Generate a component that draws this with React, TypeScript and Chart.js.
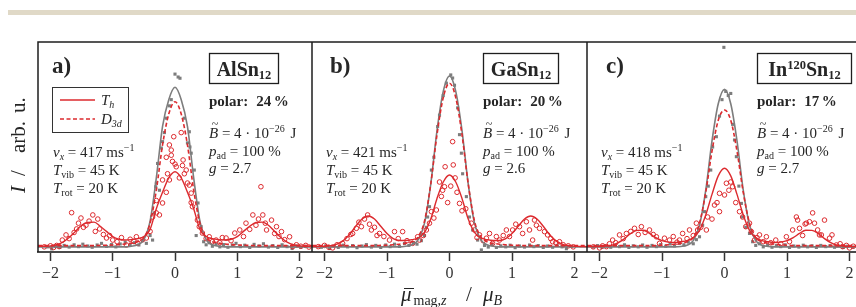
import React, { useEffect, useRef } from 'react';
import { Chart, registerables } from 'chart.js';
Chart.register(...registerables);

const FONT = '"Liberation Serif", "DejaVu Serif", serif';
const RED = '#dc2a2e';
const GREY = '#7d7d7d';
const INK = '#262626';

// x positions of the fitted curves
const CURVE_X = [
  -2.2, -2.1, -2.0, -1.9, -1.8, -1.7, -1.6, -1.5, -1.4, -1.3, -1.2, -1.1, -1.0, -0.9, -0.8,
  -0.7, -0.6, -0.5, -0.4, -0.3, -0.2, -0.1, 0, 0.1, 0.2, 0.3, 0.4, 0.5, 0.6, 0.7,
  0.8, 0.9, 1.0, 1.1, 1.2, 1.3, 1.4, 1.5, 1.6, 1.7, 1.8, 1.9, 2.0, 2.1, 2.2,
];

// ---------- panel a) AlSn12 ----------
const GRAY_FIT_A = [
  0.5, 0.5, 0.5, 0.5, 0.5, 0.5, 0.5, 0.5, 0.5, 0.5, 0.5, 0.5, 0.5, 0.5, 0.5,
  0.8, 1.5, 4, 13, 34, 59, 72, 78, 72, 59, 34, 13, 4, 1.5, 0.8,
  0.5, 0.5, 0.5, 0.5, 0.5, 0.5, 0.5, 0.5, 0.5, 0.5, 0.5, 0.5, 0.5, 0.5, 0.5,
];
const D3D_FIT_A = [
  1.1, 1.1, 1.1, 1.1, 1.1, 1.1, 1.1, 1.1, 1.1, 1.1, 1.2, 1.3, 1.4, 1.6, 1.9,
  2.3, 3, 5, 12, 28, 50, 65, 71, 65, 50, 28, 12, 5, 3, 2.3,
  1.9, 1.6, 1.4, 1.3, 1.2, 1.1, 1.1, 1.1, 1.1, 1.1, 1.1, 1.1, 1.1, 1.1, 1.1,
];
const TH_FIT_A = [
  0.7, 0.8, 1, 1.5, 2.8, 5, 8, 11, 12.3, 12.5, 10.5, 8, 5.5, 4.2, 3.8,
  4, 4.5, 5.5, 9, 19, 27, 34, 37, 34, 27, 19, 9, 5.5, 4.5, 4,
  3.8, 4.2, 5.5, 8, 10.5, 12.3, 12.5, 11, 8, 5, 2.8, 1.5, 1, 0.8, 0.7,
];
const GRAY_PTS_A = [
  [-2.05, 0.5], [-1.98, -0.5], [-1.92, 0.8], [-1.85, 0.2], [-1.78, 1.2], [-1.7, 0.4], [-1.62, 1.5],
  [-1.55, 0.6], [-1.48, 1.8], [-1.4, 0.9], [-1.33, 0.3], [-1.25, 1.4], [-1.18, 2.2], [-1.1, 0.7],
  [-1.02, 1.6], [-0.95, 0.5], [-0.88, 1.9], [-0.8, 2.8], [-0.72, 1.2], [-0.65, 2.5], [-0.58, 1.4],
  [-0.52, 3.5], [-0.46, 2.2], [-0.4, 6], [-0.36, 3.8], [-0.33, 17], [-0.31, 29.7], [-0.3, 31.5],
  [-0.28, 41], [-0.25, 28], [-0.22, 48.5], [-0.2, 51.6], [-0.17, 56], [-0.14, 63], [-0.09, 69],
  [-0.06, 72], [0, 84.4], [0.05, 83], [0.08, 82.4], [0.15, 63], [0.2, 51], [0.23, 56.4], [0.24, 49],
  [0.26, 46], [0.31, 37.8], [0.34, 6], [0.37, 21.8], [0.42, 10.3], [0.46, 3], [0.5, 1.5], [0.55, 2.5],
  [0.6, 0.8], [0.66, 1.8], [0.72, 0.5], [0.78, 1.6], [0.85, 0.3], [0.92, 1.4], [0.98, 2.2], [1.05, 0.6],
  [1.12, 1.3], [1.2, 0.2], [1.27, 1.7], [1.35, 0.9], [1.42, 2.0], [1.5, 0.4], [1.57, 1.1], [1.65, 0.2],
  [1.72, 1.5], [1.8, 0.6], [1.88, -0.3], [1.95, 0.9], [2.02, 0.3], [2.1, 0.7],
];
const RED_PTS_A = [
  [-2.1, 0.5], [-2.0, 1.0], [-1.95, 0.2], [-1.9, 1.2], [-1.86, 0.6], [-1.81, 3.8], [-1.75, 6.3],
  [-1.7, 4.5], [-1.66, 17.1], [-1.62, 7.5], [-1.58, 9.2], [-1.55, 12], [-1.51, 14.5], [-1.47, 10],
  [-1.43, 11], [-1.38, 13], [-1.32, 16], [-1.28, 8], [-1.24, 14], [-1.21, 9.2], [-1.15, 6.5],
  [-1.1, 4.8], [-1.05, 6], [-1.0, 3.8], [-0.93, 3], [-0.86, 5], [-0.78, 1.4], [-0.72, 4.2],
  [-0.66, 3.2], [-0.62, 5.4], [-0.6, 2.4], [-0.52, 4], [-0.46, 4.8], [-0.4, 8], [-0.36, 15],
  [-0.3, 17], [-0.3, 23], [-0.25, 16], [-0.2, 21.8], [-0.2, 33], [-0.14, 27], [-0.14, 44],
  [-0.12, 36], [-0.09, 33], [-0.09, 50], [-0.06, 45], [-0.06, 47.5], [-0.04, 42], [-0.02, 54],
  [0, 40.7], [0.02, 39.4], [0.07, 34], [0.1, 56], [0.12, 40], [0.13, 42.7], [0.15, 36], [0.18, 37.8],
  [0.2, 31.5], [0.23, 30.5], [0.26, 22], [0.26, 26.6], [0.28, 20], [0.36, 13.5], [0.39, 10.3],
  [0.44, 7.2], [0.5, 4.5], [0.55, 5.4], [0.6, 3], [0.66, 3.8], [0.72, 2.5], [0.76, 5], [0.82, 4.8],
  [0.9, 3.5], [0.96, 7.2], [1.04, 8.7], [1.1, 5.5], [1.14, 12], [1.2, 9], [1.25, 16], [1.3, 11],
  [1.34, 14], [1.38, 29.7], [1.41, 16], [1.45, 12], [1.47, 8.7], [1.55, 13.5], [1.6, 7], [1.63, 10.3],
  [1.67, 5.5], [1.71, 7.9], [1.76, 4], [1.84, 5.4], [1.89, 0.6], [1.95, 1.5], [2.02, 0.8], [2.1, 1.2],
  [2.15, 0.4],
];

// ---------- panel b) GaSn12 ----------
const GRAY_FIT_B = [
  0.5, 0.5, 0.5, 0.5, 0.5, 0.5, 0.5, 0.5, 0.5, 0.5, 0.5, 0.5, 0.5, 0.5, 0.5,
  0.8, 1.5, 4, 12, 31, 57, 76, 83.5, 76, 57, 31, 12, 4, 1.5, 0.8,
  0.5, 0.5, 0.5, 0.5, 0.5, 0.5, 0.5, 0.5, 0.5, 0.5, 0.5, 0.5, 0.5, 0.5, 0.5,
];
const D3D_FIT_B = [
  1.1, 1.1, 1.1, 1.1, 1.1, 1.1, 1.1, 1.1, 1.1, 1.1, 1.1, 1.2, 1.3, 1.5, 1.8,
  2.2, 3, 5.5, 13, 31, 55, 73, 80, 73, 55, 31, 13, 5.5, 3, 2.2,
  1.8, 1.5, 1.3, 1.2, 1.1, 1.1, 1.1, 1.1, 1.1, 1.1, 1.1, 1.1, 1.1, 1.1, 1.1,
];
const TH_FIT_B = [
  0.6, 0.7, 0.8, 1.1, 1.8, 3.5, 6.5, 10.5, 14, 15.5, 14, 10.5, 7, 4.5, 3.6,
  3.6, 4, 4.8, 7.5, 14, 24, 32, 35.4, 32, 24, 14, 7.5, 4.8, 4, 3.6,
  3.6, 4.5, 7, 10.5, 14, 15.5, 14, 10.5, 6.5, 3.5, 1.8, 1.1, 0.8, 0.7, 0.6,
];
const GRAY_PTS_B = [
  [-2.05, 0.3], [-1.98, 1.0], [-1.92, -0.3], [-1.85, 0.8], [-1.78, 0.2], [-1.7, 1.3], [-1.63, 0.5],
  [-1.55, 1.1], [-1.48, 0.1], [-1.4, 0.9], [-1.33, 1.6], [-1.25, 0.4], [-1.18, 1.2], [-1.1, 0.2],
  [-1.02, 1.4], [-0.95, 0.6], [-0.88, 1.8], [-0.8, 0.7], [-0.72, 2.1], [-0.65, 1.2], [-0.58, 2.6],
  [-0.52, 1.8], [-0.45, 3.5], [-0.4, 6], [-0.37, 10], [-0.35, 15], [-0.32, 20], [-0.29, 37.8],
  [-0.25, 44], [-0.19, 58.9], [-0.16, 64.5], [-0.1, 74], [-0.05, 80], [0.02, 84], [0.05, 82.5],
  [0.08, 79], [0.13, 68], [0.16, 55], [0.19, 46], [0.21, 36], [0.27, 24.9], [0.32, 15], [0.37, 8.7],
  [0.45, 3.8], [0.51, -1], [0.56, 1.2], [0.62, 0.4], [0.68, 1.5], [0.75, 0.2], [0.82, 1.0], [0.9, 0.5],
  [0.97, 1.3], [1.05, 0.1], [1.12, 0.9], [1.2, 0.4], [1.28, 1.4], [1.35, 0.6], [1.42, 1.1], [1.5, 0.2],
  [1.57, 0.9], [1.65, 0.3], [1.72, 1.2], [1.8, 0.5], [1.87, -0.4], [1.95, 0.7],
];
const RED_PTS_B = [
  [-2.1, 0.6], [-2.0, 1.2], [-1.93, 0.3], [-1.87, 0], [-1.8, 1.5], [-1.71, 2.2], [-1.64, 4.5],
  [-1.58, 6.5], [-1.55, 7], [-1.49, 9.5], [-1.45, 12.5], [-1.41, 10.3], [-1.36, 14], [-1.31, 16],
  [-1.28, 11.5], [-1.25, 8.7], [-1.2, 10], [-1.16, 6], [-1.12, 7], [-1.05, 5.5], [-0.96, 3.8],
  [-0.88, 7.9], [-0.82, 4.5], [-0.75, 7.9], [-0.68, 3.5], [-0.59, 2.2], [-0.51, 5.4], [-0.48, 3.8],
  [-0.42, 6], [-0.37, 8.7], [-0.32, 12], [-0.29, 17.6], [-0.25, 14.5], [-0.21, 18.4], [-0.16, 32],
  [-0.13, 25], [-0.11, 28], [-0.08, 29.7], [-0.07, 39.4], [-0.03, 22], [0.02, 30], [0.05, 51.6],
  [0.06, 40.3], [0.09, 34], [0.12, 27], [0.16, 21.6], [0.2, 18], [0.26, 19], [0.35, 12], [0.4, 8.7],
  [0.44, 5], [0.48, 6.3], [0.54, 3.5], [0.59, 4.7], [0.64, 7], [0.69, 2.2], [0.75, 5.5], [0.8, 3.8],
  [0.86, 6], [0.91, 8.7], [0.96, 5.5], [1.01, 8.7], [1.06, 11.5], [1.12, 10.3], [1.17, 7], [1.23, 12.7],
  [1.28, 8.7], [1.33, 3.8], [1.36, 13.5], [1.39, 11], [1.44, 9.5], [1.52, 7.9], [1.57, 6.3], [1.62, 4.5],
  [1.65, 3], [1.7, 2.5], [1.76, 3], [1.82, 1.5], [1.9, 1.0], [1.98, 0.5],
];

// ---------- panel c) In120Sn12 ----------
const GRAY_FIT_C = [
  0.5, 0.5, 0.5, 0.5, 0.5, 0.5, 0.5, 0.5, 0.5, 0.5, 0.5, 0.5, 0.5, 0.5, 0.5,
  0.7, 1.3, 3.5, 11, 28, 52, 70, 77, 70, 52, 28, 11, 3.5, 1.3, 0.7,
  0.5, 0.5, 0.5, 0.5, 0.5, 0.5, 0.5, 0.5, 0.5, 0.5, 0.5, 0.5, 0.5, 0.5, 0.5,
];
const D3D_FIT_C = [
  1.1, 1.1, 1.1, 1.1, 1.1, 1.1, 1.1, 1.1, 1.1, 1.1, 1.1, 1.1, 1.3, 1.5, 1.8,
  2.2, 3, 5, 12, 27, 47, 62, 67, 62, 47, 27, 12, 5, 3, 2.2,
  1.8, 1.5, 1.3, 1.1, 1.1, 1.1, 1.1, 1.1, 1.1, 1.1, 1.1, 1.1, 1.1, 1.1, 1.1,
];
const TH_FIT_C = [
  0.6, 0.6, 0.7, 0.9, 1.3, 2.5, 4.5, 7, 8.5, 8.6, 7, 5, 3.5, 2.8, 2.6,
  3, 3.5, 5, 8.5, 16, 26, 35, 38.7, 35, 26, 16, 8.5, 5, 3.5, 3,
  2.6, 2.8, 3.5, 5, 7, 8.6, 8.5, 7, 4.5, 2.5, 1.3, 0.9, 0.7, 0.6, 0.6,
];
const GRAY_PTS_C = [
  [-2.1, 0.4], [-2.03, 1.1], [-1.96, 0.2], [-1.89, 0.9], [-1.82, 0.3], [-1.75, 1.3], [-1.68, 0.6],
  [-1.6, 1.5], [-1.53, 0.2], [-1.46, 1.0], [-1.38, 0.5], [-1.31, 1.4], [-1.24, 0.3], [-1.16, 1.2],
  [-1.09, 0.6], [-1.02, 1.6], [-0.94, 0.8], [-0.87, 1.9], [-0.8, 1.0], [-0.72, 2.2], [-0.65, 1.5],
  [-0.58, 2.8], [-0.5, 2.0], [-0.45, 4], [-0.4, 5.4], [-0.35, 11], [-0.32, 17.6], [-0.3, 24.9],
  [-0.26, 30], [-0.22, 37.8], [-0.19, 49], [-0.13, 54], [-0.08, 64], [-0.04, 72], [-0.01, 97.4],
  [0.02, 76], [0.06, 74], [0.1, 75], [0.13, 60], [0.16, 52.4], [0.19, 44.3], [0.23, 30], [0.27, 21.6],
  [0.29, 15], [0.34, 10], [0.4, 7], [0.45, 3], [0.5, 1.2], [0.56, 2.0], [0.62, 0.5], [0.69, 1.4],
  [0.76, 0.3], [0.83, 1.1], [0.9, 0.6], [0.97, 1.5], [1.04, 0.2], [1.11, 0.9], [1.19, 0.4], [1.26, 1.3],
  [1.33, 0.5], [1.4, 1.0], [1.47, 0.2], [1.54, 1.2], [1.62, 0.6], [1.69, 1.1], [1.76, 0.3], [1.83, 0.9],
  [1.9, 0.2], [1.97, 0.8], [2.05, 0.4],
];
const RED_PTS_C = [
  [-2.1, 0.5], [-2.0, 0], [-1.95, 1.0], [-1.89, 0.6], [-1.84, 2.0], [-1.79, 3.8], [-1.74, 2.5],
  [-1.68, 6.3], [-1.62, 4.5], [-1.57, 7], [-1.5, 8], [-1.44, 9.5], [-1.38, 6.5], [-1.33, 10.3],
  [-1.27, 7.5], [-1.2, 8.7], [-1.14, 6.5], [-1.09, 5.4], [-1.04, 2.2], [-0.96, 4.7], [-0.88, 3.8],
  [-0.82, 5.5], [-0.76, 2.8], [-0.72, 3.8], [-0.67, 7], [-0.6, 4.5], [-0.56, 8.7], [-0.5, 6],
  [-0.45, 12], [-0.43, 8.7], [-0.38, 10], [-0.29, 8.7], [-0.27, 15], [-0.2, 14], [-0.16, 20.8],
  [-0.12, 22], [-0.08, 26.5], [-0.08, 17.6], [0, 25.7], [0.03, 31.4], [0.07, 28], [0.1, 32],
  [0.13, 29.7], [0.18, 22], [0.24, 17.6], [0.29, 15], [0.34, 10.3], [0.4, 12], [0.43, 7.9], [0.48, 3.8],
  [0.52, 5], [0.56, 6.3], [0.62, 3], [0.67, 5.4], [0.74, 2.5], [0.82, 3.8], [0.9, 2.0], [0.99, 5.4],
  [1.04, 3], [1.09, 8.7], [1.15, 15], [1.17, 13.5], [1.2, 9.5], [1.25, 6], [1.29, 11.6], [1.31, 12],
  [1.36, 12.7], [1.41, 17], [1.44, 12], [1.49, 8.7], [1.52, 6.3], [1.55, 6.3], [1.6, 13.5], [1.68, 4.7],
  [1.72, 6.3], [1.79, 1.4], [1.85, 2], [1.89, 0.6], [1.95, 1.2], [2.0, 0], [2.06, 0.8],
];

const X_TICKS = [-2, -1, 0, 1, 2];
const CLUSTERS = ['Al', 'Ga', 'In'];
const POLAR = ['24', '20', '17'];
const VX = ['417', '421', '418'];
const G_FACTOR = ['2.7', '2.6', '2.7'];
const T_VIB = '45';
const T_ROT = '20';
const P_AD = '100';
const B_EXP = '−26';

type Seg = { t: string; f: string; dy?: number; dx?: number; adv?: boolean };

const r = (s: number) => `${s}px ${FONT}`;
const it = (s: number) => `italic ${s}px ${FONT}`;
const b = (s: number) => `bold ${s}px ${FONT}`;

function rich(ctx: CanvasRenderingContext2D, x: number, y: number, segs: Seg[]) {
  let cx = x;
  for (const s of segs) {
    ctx.font = s.f;
    if (s.adv === false) {
      ctx.fillText(s.t, cx + (s.dx || 0), y + (s.dy || 0));
      continue;
    }
    cx += s.dx || 0;
    ctx.fillText(s.t, cx, y + (s.dy || 0));
    cx += ctx.measureText(s.t).width;
  }
  return cx;
}
function richWidth(ctx: CanvasRenderingContext2D, segs: Seg[]) {
  let w = 0;
  for (const s of segs) {
    ctx.font = s.f;
    if (s.adv === false) continue;
    w += (s.dx || 0) + ctx.measureText(s.t).width;
  }
  return w;
}

interface Spec {
  id: number;
  left: number;
  width: number;
  padLeft: number;
  letter: string;
  letterX: number;
  box: { x: number; w: number };
  rx: number;
  lx: number;
  gray: number[];
  d3d: number[];
  th: number[];
  grayPts: number[][];
  redPts: number[][];
}

const SPECS: Spec[] = [
  { id: 0, left: 0, width: 312, padLeft: 38, letter: 'a)', letterX: 52, box: { x: 209.5, w: 69 }, rx: 209, lx: 53,
    gray: GRAY_FIT_A, d3d: D3D_FIT_A, th: TH_FIT_A, grayPts: GRAY_PTS_A, redPts: RED_PTS_A },
  { id: 1, left: 312, width: 275, padLeft: 0, letter: 'b)', letterX: 330, box: { x: 483.5, w: 75 }, rx: 483, lx: 326,
    gray: GRAY_FIT_B, d3d: D3D_FIT_B, th: TH_FIT_B, grayPts: GRAY_PTS_B, redPts: RED_PTS_B },
  { id: 2, left: 587, width: 275, padLeft: 0, letter: 'c)', letterX: 606, box: { x: 757.5, w: 94 }, rx: 757, lx: 601,
    gray: GRAY_FIT_C, d3d: D3D_FIT_C, th: TH_FIT_C, grayPts: GRAY_PTS_C, redPts: RED_PTS_C },
];

function fmtTick(v: number) {
  return v < 0 ? '\u2212' + Math.abs(v) : String(v);
}

function annotate(spec: Spec) {
  return {
    id: 'annot' + spec.id,
    afterDraw(chart: Chart) {
      const ctx = chart.ctx;
      const { left, right, top, bottom } = chart.chartArea;
      const ox = spec.left;
      ctx.save();
      // frame (top, left, right)
      ctx.strokeStyle = '#1e1e1e';
      ctx.lineWidth = 1.5;
      ctx.beginPath();
      ctx.moveTo(left, bottom);
      ctx.lineTo(left, top);
      ctx.lineTo(right, top);
      ctx.lineTo(right, bottom);
      ctx.stroke();

      ctx.fillStyle = INK;
      ctx.textBaseline = 'alphabetic';
      ctx.textAlign = 'left';

      // panel letter
      rich(ctx, spec.letterX - ox, 73, [{ t: spec.letter, f: b(23) }]);

      // cluster label box
      const el = CLUSTERS[spec.id];
      const label: Seg[] = spec.id === 2
        ? [{ t: 'In', f: b(20) }, { t: '120', f: b(12.5), dy: -7 }, { t: 'Sn', f: b(20) }, { t: '12', f: b(12.5), dy: 3 }]
        : [{ t: el + 'Sn', f: b(20) }, { t: '12', f: b(12.5), dy: 3 }];
      const bx = spec.box.x - ox;
      ctx.strokeStyle = '#1e1e1e';
      ctx.lineWidth = 1.3;
      ctx.strokeRect(bx, 53.5, spec.box.w, 30);
      const lw = richWidth(ctx, label);
      rich(ctx, bx + (spec.box.w - lw) / 2, 76, label);

      // right-hand text
      const rx = spec.rx - ox;
      rich(ctx, rx, 106, [
        { t: 'polar:', f: b(15) },
        { t: POLAR[spec.id], f: b(15), dx: 8 },
        { t: '%', f: b(15), dx: 2.5 },
      ]);
      rich(ctx, rx, 138, [
        { t: 'B', f: it(15) },
        { t: '~', f: r(12), dx: -6.5, dy: -10.5, adv: false },
        { t: ' = 4 · 10', f: r(15) },
        { t: B_EXP, f: r(10), dy: -6 },
        { t: ' J', f: r(15), dx: 2 },
      ]);
      rich(ctx, rx, 156, [
        { t: 'p', f: it(15) },
        { t: 'ad', f: r(10), dy: 3 },
        { t: ' = ' + P_AD + ' %', f: r(15) },
      ]);
      rich(ctx, rx, 173, [
        { t: 'g', f: it(15) },
        { t: ' = ' + G_FACTOR[spec.id], f: r(15) },
      ]);

      // left-hand text
      const lx = spec.lx - ox;
      rich(ctx, lx, 157, [
        { t: 'v', f: it(15) },
        { t: 'x', f: it(10), dy: 3 },
        { t: ' = ' + VX[spec.id] + ' ms', f: r(15) },
        { t: '−1', f: r(10), dy: -6 },
      ]);
      rich(ctx, lx, 175, [
        { t: 'T', f: it(15) },
        { t: 'vib', f: r(10), dy: 3 },
        { t: ' = ' + T_VIB + ' K', f: r(15) },
      ]);
      rich(ctx, lx, 193, [
        { t: 'T', f: it(15) },
        { t: 'rot', f: r(10), dy: 3 },
        { t: ' = ' + T_ROT + ' K', f: r(15) },
      ]);

      if (spec.id === 0) {
        // legend
        ctx.strokeStyle = '#333';
        ctx.lineWidth = 1;
        ctx.strokeRect(52.5, 87.5, 76, 45);
        ctx.strokeStyle = RED;
        ctx.lineWidth = 1.4;
        ctx.beginPath();
        ctx.moveTo(60, 100);
        ctx.lineTo(95, 100);
        ctx.stroke();
        ctx.setLineDash([4, 2.5]);
        ctx.lineWidth = 1.5;
        ctx.beginPath();
        ctx.moveTo(60, 119);
        ctx.lineTo(95, 119);
        ctx.stroke();
        ctx.setLineDash([]);
        ctx.fillStyle = INK;
        rich(ctx, 101, 105, [{ t: 'T', f: it(15) }, { t: 'h', f: it(10), dy: 3 }]);
        rich(ctx, 101, 124, [{ t: 'D', f: it(15) }, { t: '3d', f: it(10), dy: 3 }]);

        // y axis title
        ctx.save();
        ctx.translate(24.5, 193);
        ctx.rotate(-Math.PI / 2);
        ctx.font = it(21);
        ctx.fillText('I', 0, 0);
        ctx.font = r(21);
        ctx.fillText('/', 17, 0);
        ctx.fillText('arb.', 40, 0);
        ctx.fillText('u.', 80, 0);
        ctx.restore();
      }

      if (spec.id === 1) {
        // x axis title
        const x0 = 401 - ox;
        const y0 = 301;
        ctx.font = it(21);
        ctx.fillText('μ', x0, y0);
        ctx.strokeStyle = INK;
        ctx.lineWidth = 1;
        ctx.beginPath();
        ctx.moveTo(x0 + 3, 288.5);
        ctx.lineTo(x0 + 13, 288.5);
        ctx.stroke();
        rich(ctx, x0 + 12.5, y0 + 4, [{ t: 'mag,', f: r(14) }, { t: 'z', f: it(14) }]);
        ctx.font = r(21);
        ctx.fillText('/', 466 - ox, y0);
        rich(ctx, 483 - ox, y0, [{ t: 'μ', f: it(21) }, { t: 'B', f: it(14), dy: 4 }]);
      }
      ctx.restore();
    },
  };
}

function toXY(xs: number[], ys: number[]) {
  return xs.map((x, i) => ({ x, y: ys[i] }));
}

function Panel({ spec }: { spec: Spec }) {
  const ref = useRef<HTMLCanvasElement>(null);
  useEffect(() => {
    const canvas = ref.current;
    if (!canvas) return;
    const chart = new Chart(canvas, {
      type: 'scatter',
      data: {
        datasets: [
          { data: toXY(CURVE_X, spec.th), showLine: true, borderColor: RED, borderWidth: 1.4, pointRadius: 0, cubicInterpolationMode: 'monotone', fill: false } as any,
          { data: toXY(CURVE_X, spec.d3d), showLine: true, borderColor: RED, borderWidth: 1.6, borderDash: [4, 2.5], pointRadius: 0, cubicInterpolationMode: 'monotone', fill: false } as any,
          { data: toXY(CURVE_X, spec.gray), showLine: true, borderColor: GREY, borderWidth: 1.6, pointRadius: 0, cubicInterpolationMode: 'monotone', fill: false } as any,
          { data: spec.redPts.map(([x, y]) => ({ x, y })), pointStyle: 'circle', pointRadius: 2.3, borderWidth: 1, borderColor: RED, backgroundColor: 'rgba(0,0,0,0)' } as any,
          { data: spec.grayPts.map(([x, y]) => ({ x, y })), pointStyle: 'rect', pointRadius: 2.2, borderWidth: 0, backgroundColor: GREY, borderColor: GREY } as any,
        ],
      },
      options: {
        responsive: false,
        animation: false,
        events: [],
        layout: { autoPadding: false, padding: { top: 42, left: spec.padLeft, right: 0, bottom: 0 } },
        plugins: { legend: { display: false }, tooltip: { enabled: false } },
        scales: {
          x: {
            type: 'linear',
            min: -2.2,
            max: 2.2,
            afterFit: (s: any) => { s.height = 55; s.paddingLeft = 0; s.paddingRight = 0; },
            afterBuildTicks: (s: any) => { s.ticks = X_TICKS.map((v) => ({ value: v })); },
            ticks: {
              stepSize: 1,
              includeBounds: false,
              maxRotation: 0,
              padding: 3,
              color: '#333',
              font: { family: FONT, size: 16 },
              callback: (v: any) => fmtTick(Number(v)),
            },
            grid: { drawOnChartArea: false, drawTicks: true, tickLength: 9, tickWidth: 1.5, tickColor: '#333' },
            border: { display: true, color: '#4a4a4a', width: 2 },
          },
          y: { display: false, min: -2, max: 100 },
        },
      } as any,
      plugins: [annotate(spec)],
    });
    return () => chart.destroy();
  }, [spec]);
  return (
    <canvas
      ref={ref}
      width={spec.width}
      height={307}
      style={{ position: 'absolute', left: spec.left, top: 0, width: spec.width, height: 307 }}
    />
  );
}

export default function App() {
  return (
    <div style={{ position: 'fixed', left: 0, top: 0, width: 856, height: 307, overflow: 'hidden', background: '#fff' }}>
      <div style={{ position: 'absolute', left: 8, top: 10, width: 848, height: 5, background: '#e0d9c7' }} />
      {SPECS.map((s) => (
        <Panel key={s.id} spec={s} />
      ))}
    </div>
  );
}
